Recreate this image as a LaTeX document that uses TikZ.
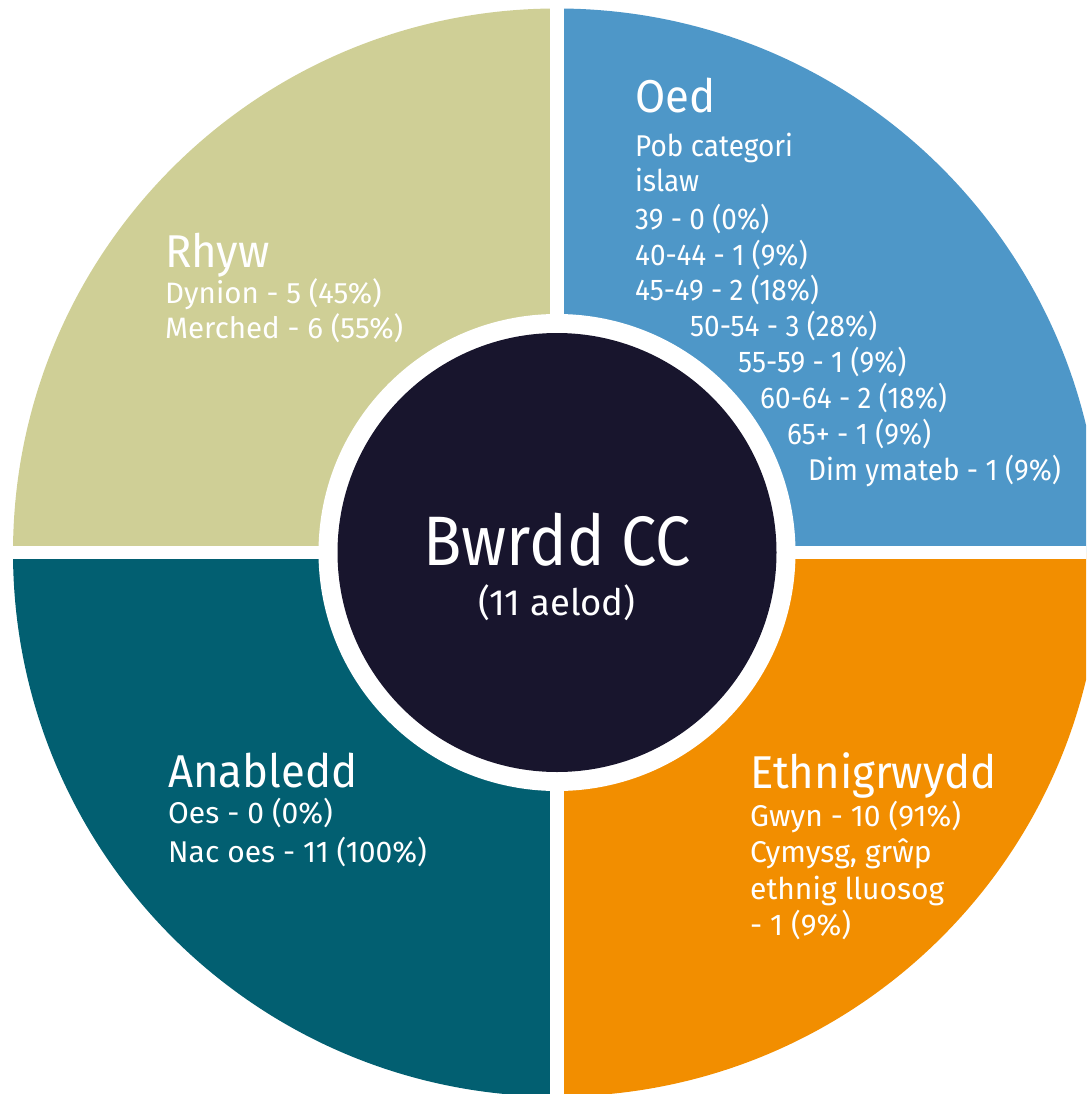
\documentclass[tikz,border=0pt]{standalone}
\usepackage{fontspec}
\setmainfont{Fira Sans}
\newfontfamily\ttlfont[FakeStretch=0.95]{Fira Sans}
\newfontfamily\oedfont[FakeStretch=0.93]{Fira Sans}
\newfontfamily\bigfont[FakeStretch=0.9]{Fira Sans}
\definecolor{tanq}{HTML}{CFCF96}
\definecolor{blueq}{HTML}{4E97C8}
\definecolor{tealq}{HTML}{025F71}
\definecolor{orangeq}{HTML}{F28E00}
\definecolor{navyq}{HTML}{18152D}
\begin{document}
\begin{tikzpicture}[x=1pt,y=-1pt,
  lbl/.style={text=white, inner sep=0pt, anchor=base west},
  ttl/.style={lbl, font=\ttlfont\fontsize{46}{50}\selectfont},
  bodyA/.style={lbl, font=\oedfont\fontsize{30}{36}\selectfont},
  bodyB/.style={lbl, font=\fontsize{30}{36}\selectfont},
  bodyR/.style={lbl, font=\fontsize{29.5}{36}\selectfont}]
\useasboundingbox (0,0) rectangle (1086,1094);
\clip (0,0) rectangle (1086,1094);
\coordinate (c) at (557,552.5);
% quadrants
\fill[tanq] (c) -- ++(180:544pt) arc[start angle=180, end angle=90, radius=544pt] -- cycle;
\fill[blueq] (c) -- ++(90:544pt) arc[start angle=90, end angle=0, radius=544pt] -- cycle;
\fill[orangeq] (c) -- ++(0:544pt) arc[start angle=0, end angle=-90, radius=544pt] -- cycle;
\fill[tealq] (c) -- ++(-90:544pt) arc[start angle=-90, end angle=-180, radius=544pt] -- cycle;
% gaps
\draw[white, line width=13.5pt] ([yshift=560pt]c) -- ([yshift=-560pt]c);
\draw[white, line width=13.5pt] ([xshift=-560pt]c) -- ([xshift=560pt]c);
\fill[white] (c) circle[radius=238.5pt];
\fill[navyq] (c) circle[radius=219.5pt];
% centre
\node[text=white, inner sep=0pt, anchor=base, font=\bigfont\fontsize{70}{80}\selectfont] (bw) at (557,565) {Bwrdd CC};
\node[text=white, inner sep=0pt, anchor=base, font=\fontsize{36.5}{40}\selectfont] (ae) at (557,615) {(11 aelod)};
% Oed
\node[ttl] (oed) at (635,113) {Oed};
\node[bodyA] (o1) at (635,157) {Pob categori};
\node[bodyA] (o2) at (635,192) {islaw};
\node[bodyA] (o3) at (635,229) {39 - 0 (0\%)};
\node[bodyA] (o4) at (635,265) {40-44 - 1 (9\%)};
\node[bodyA] (o5) at (635,300) {45-49 - 2 (18\%)};
\node[bodyA] (o6) at (690,336) {50-54 - 3 (28\%)};
\node[bodyA] (o7) at (738,372) {55-59 - 1 (9\%)};
\node[bodyA] (o8) at (760,408) {60-64 - 2 (18\%)};
\node[bodyA] (o9) at (787,444) {65+ - 1 (9\%)};
\node[bodyA] (o10) at (808,480) {Dim ymateb - 1 (9\%)};
% Rhyw
\node[ttl] (rh) at (165,267) {Rhyw};
\node[bodyR] (r1) at (165,303) {Dynion - 5 (45\%)};
\node[bodyR] (r2) at (165,338) {Merched - 6 (55\%)};
% Anabledd
\node[ttl] (an) at (168,787) {Anabledd};
\node[bodyB] (a1) at (168,823) {Oes - 0 (0\%)};
\node[bodyB] (a2) at (168,862) {Nac oes - 11 (100\%)};
% Ethnigrwydd
\node[ttl] (et) at (750,788) {Ethnigrwydd};
\node[bodyB] (e1) at (750,826) {Gwyn - 10 (91\%)};
\node[bodyB] (e2) at (750,862) {Cymysg, grŵp};
\node[bodyB] (e3) at (750,899) {ethnig lluosog};
\node[bodyB] (e4) at (750,935) {- 1 (9\%)};
\end{tikzpicture}
\end{document}
